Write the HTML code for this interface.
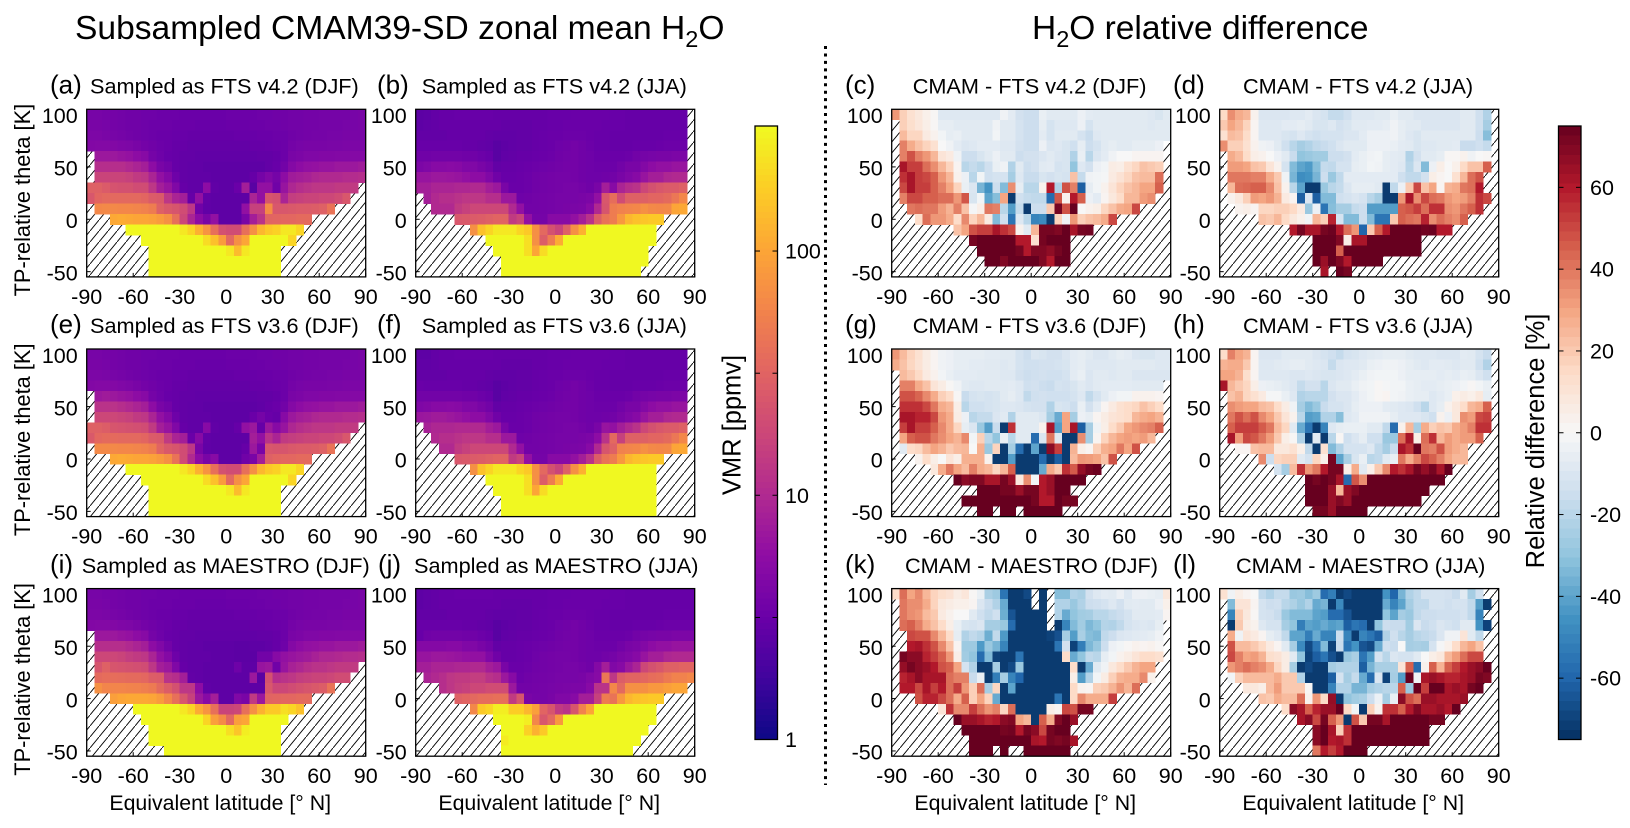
<!DOCTYPE html>
<html><head><meta charset="utf-8"><title>CMAM39-SD H2O</title>
<style>html,body{margin:0;padding:0;background:#fff}svg{display:block}text{font-family:"Liberation Sans",Arial,sans-serif;fill:#000}</style></head>
<body><svg id="fig" xmlns="http://www.w3.org/2000/svg" width="1630" height="828" viewBox="0 0 1630 828">
<defs><pattern id="hatch" patternUnits="userSpaceOnUse" width="9" height="11"><rect width="9" height="11" fill="#fff"/><line x1="-1" y1="12.2" x2="10" y2="-1.2" stroke="#000" stroke-width="0.9"/></pattern></defs>
<rect width="1630" height="828" fill="#fff"/>
<text x="75" y="39" font-size="33.6">Subsampled CMAM39-SD zonal mean H<tspan dy="8" font-size="23.5">2</tspan><tspan dy="-8">O</tspan></text>
<text x="1032" y="39" font-size="33.5">H<tspan dy="8" font-size="23.5">2</tspan><tspan dy="-8">O relative difference</tspan></text>
<line x1="825.5" y1="46" x2="825.5" y2="785" stroke="#000" stroke-width="3" stroke-dasharray="3 4.45"/>
<g id="panels"></g>
<g id="bars"></g>
</svg>
<script>
const _=null;
const latBins=[-87.5,-82.5,-77.5,-72.5,-67.5,-62.5,-57.5,-52.5,-47.5,-42.5,-37.5,-32.5,-27.5,-22.5,-17.5,-12.5,-7.5,-2.5,2.5,7.5,12.5,17.5,22.5,27.5,32.5,37.5,42.5,47.5,52.5,57.5,62.5,67.5,72.5,77.5,82.5,87.5];
const thetaBins=[100,90,80,70,60,50,40,30,20,10,0,-10,-20,-30,-40,-50];
const xTicks=[-90,-60,-30,0,30,60,90];
const yTicks=[100,50,0,-50];
const vmrTicks=[1,10,100];
const vmrMinorTicks=[3.16,31.6];
const diffTicks=[-60,-40,-20,0,20,40,60];
const panelA=[
[3.9,3.9,3.8,3.7,3.6,3.5,3.5,3.4,3.4,3.3,3.3,3.3,3.2,3.2,3.2,3.2,3.2,3.2,3.3,3.3,3.3,3.3,3.4,3.4,3.5,3.5,3.6,3.6,3.7,3.7,3.8,3.8,3.8,3.8,3.9,4],
[4,4,3.9,3.7,3.6,3.5,3.5,3.4,3.3,3.3,3.3,3.2,3.2,3.2,3.1,3.1,3.1,3.1,3.2,3.2,3.2,3.3,3.3,3.4,3.4,3.5,3.6,3.6,3.7,3.7,3.8,3.8,3.8,3.9,3.9,4],
[4.3,4.3,4.1,3.9,3.8,3.6,3.5,3.4,3.3,3.2,3.2,3.1,3.1,3,3,3,3,3,3,3.1,3.1,3.1,3.2,3.2,3.3,3.3,3.5,3.6,3.7,3.8,3.8,3.9,3.9,4,4,4],
[4.6,4.7,4.7,4.6,4.4,4.3,4,3.7,3.5,3.3,3.2,3,3,2.9,2.9,2.9,2.9,2.9,2.9,2.9,2.9,3,3,3.1,3.2,3.3,3.7,3.9,4,4,4,4.1,4.1,4.2,4.2,4.2],
[_,7,7,7,6.5,6.2,5.5,5,3.8,3.4,3.1,3,2.9,2.9,2.8,2.8,2.8,2.8,2.8,2.8,2.8,2.8,2.9,2.9,3,3.3,4,4.2,4.5,4.5,4.6,4.6,4.7,4.7,4.8,4.8],
[_,11,11,11,11,10,9,8,5.5,4,3.6,3,2.9,2.8,2.8,2.7,2.7,2.7,2.7,2.7,2.7,2.7,2.7,2.9,3.1,3.6,4.8,5.5,6,6.2,6.5,6.5,7,7,7,7.5],
[_,17,17,17,17,16,14,13,9,6,4.8,3.4,2.9,2.8,2.8,2.8,2.7,2.7,2.7,2.7,2.7,3,3.8,4.5,3.8,5.5,7.5,8,8.5,9.5,10,10,10,10.5,10.5,11],
[30,30,27,23,22,22,20,20,13,8,6.5,4.5,3,2.8,2.8,5.5,2.8,2.7,2.7,3.2,8,2.5,6,6,3.5,6.5,9.5,11,12,13,13,13,14,14,14],
[25,33,35,35,35,35,35,33,27,26,13,9,8,3,6,2.9,2.7,2.7,2.7,2.7,2.7,9,6,24,22,9,15,16,17,17,18,18,20,25],
[_,60,62,62,60,60,58,55,50,30,26,24,20,13,3.5,2.8,2.7,2.7,2.7,2.7,6,16,16,65,25,25,26,27,27,28,30,42],
[_,_,_,105,110,105,100,100,95,85,70,40,18,9,5.5,4,6,2.7,2.7,2.7,4,8,12,32,33,34,34,36,36],
[_,_,_,_,_,320,320,320,320,320,320,320,260,200,120,75,40,22,20,20,40,70,130,170,190,260,260,200],
[_,_,_,_,_,_,_,320,320,320,320,320,320,320,320,220,150,85,35,70,100,320,320,320,320,320,200],
[_,_,_,_,_,_,_,_,320,320,320,320,320,320,320,320,320,320,260,140,260,320,320,320,320],
[_,_,_,_,_,_,_,_,320,320,320,320,320,320,320,320,320,320,320,320,320,320,320,320,320],
[_,_,_,_,_,_,_,_,320,320,320,320,320,320,320,320,320,320,320,320,320,320,320,320,320]];
const panelB=[
[2.6,2.7,2.9,3,3,3.1,3.1,3.1,3.1,3.1,3,3,3,3,3,3,3,3.1,3.1,3.1,3.2,3.2,3.2,3.2,3.2,3.1,3.1,3,3,3,3,3,3,3,3],
[2.7,2.8,2.9,3,3,3,3,3,3,3,3,2.9,2.9,2.9,2.9,3,3,3.1,3.1,3.2,3.2,3.2,3.2,3.2,3.1,3.1,3.1,3,3,3,3,3,3,3,3],
[2.9,2.9,2.9,2.9,3,3,3,3,3,2.9,2.8,2.8,2.8,2.9,2.9,3,3.1,3.2,3.2,3.3,3.3,3.3,3.2,3.1,3.1,3,3,3,3,3,3,3,3.1,3.1,3.1],
[3.1,3.1,3.1,3.1,3.1,3.1,3,3,2.9,2.8,2.5,2.7,2.8,2.9,2.9,3,3.1,3.2,3.4,3.5,3.7,3.5,3.3,3.1,3.1,3,3,3,3.1,3.1,3.1,3.2,3.3,3.3,3.3],
[3.5,3.5,3.6,3.6,3.6,3.6,3.5,3.5,3.3,3.1,2.5,2.8,2.9,3,3,3.1,3.2,3.3,3.5,3.6,3.7,3.5,3.4,3.2,3.2,3.2,3.2,3.3,3.6,3.8,3.9,4,4,4.2,4.2],
[4.2,4.5,5,5,5.2,5,4.5,4.5,4,3.6,2.9,3,3,3.1,3.2,3.3,3.4,3.5,3.6,3.7,3.7,3.5,3.4,3.3,3.3,3.3,3.6,4,4,4.7,5.5,6,6,6.5,6.5],
[6.5,6.5,7,7,6.8,6.5,6,5.5,5.5,4.5,3.5,3.1,3.1,3.2,3.3,3.5,3.6,3.7,3.8,3.8,3.7,3.5,3.4,3.4,3.5,3.6,4,4.5,5,6.5,8,8,9.5,10,10],
[8,8,9,9,9,9.5,9.5,10,10,8,7,4,3.2,3.2,3.3,3.5,3.6,3.7,3.8,3.9,3.9,3.7,3.5,4,8,5,9,11,12,18,22,25,27,27,30],
[_,8,10,11,11,12,13,13,13,11,11,7,7,3.4,3.5,3.6,3.7,3.8,3.9,3.9,3.9,4,4.2,6,25,38,20,30,30,30,33,33,36,45,60],
[_,_,10,10,10,14,16,18,18,18,18,18,10,6,3.6,3.6,3.7,3.8,3.9,4,4.1,4.2,5,10,24,50,55,58,60,70,62,60,62,100,105],
[_,_,_,_,_,25,26,27,28,30,32,32,14,17,6,3.8,3.8,5,5,5,6,8,12,28,42,50,80,130,150,160,170,170],
[_,_,_,_,_,_,_,70,150,200,260,260,260,200,170,70,35,22,17,30,70,120,320,320,320,320,320,320,320,320,320],
[_,_,_,_,_,_,_,_,_,320,320,320,320,320,230,70,28,50,110,320,320,320,320,320,320,320,320,320,320,320,320],
[_,_,_,_,_,_,_,_,_,_,320,320,320,320,230,100,220,320,320,320,320,320,320,320,320,320,320,320,320,320],
[_,_,_,_,_,_,_,_,_,_,_,320,320,320,320,320,320,320,320,320,320,320,320,320,320,320,320,320,320,320],
[_,_,_,_,_,_,_,_,_,_,_,320,320,320,320,320,320,320,320,320,320,320,320,320,320,320,320,320,320]];
const panelE=[
[3.9,3.9,3.8,3.7,3.6,3.5,3.5,3.4,3.4,3.3,3.3,3.3,3.2,3.2,3.2,3.2,3.2,3.2,3.3,3.3,3.3,3.3,3.4,3.4,3.5,3.5,3.6,3.6,3.7,3.7,3.8,3.8,3.8,3.8,3.9,4],
[4,4,3.9,3.7,3.6,3.5,3.5,3.4,3.3,3.3,3.3,3.2,3.2,3.2,3.1,3.1,3.1,3.1,3.2,3.2,3.2,3.3,3.3,3.4,3.4,3.5,3.6,3.6,3.7,3.7,3.8,3.8,3.8,3.9,3.9,4],
[4.2,4.2,4.1,3.9,3.8,3.6,3.5,3.4,3.3,3.2,3.2,3.1,3.1,3,3,3,3,3,3,3.1,3.1,3.1,3.2,3.2,3.3,3.3,3.5,3.6,3.7,3.8,3.8,3.9,3.9,4,4,4],
[4.6,4.8,4.8,4.7,4.5,4.3,4,3.7,3.5,3.3,3.2,3,3,2.9,2.9,2.9,2.9,2.9,2.9,2.9,2.9,3,3,3.1,3.2,3.3,3.7,3.9,4,4,4,4.1,4.1,4.2,4.2,4.2],
[_,7,7.5,7,6.5,6.2,5.5,5,3.8,3.4,3.1,3,2.9,2.9,2.8,2.8,2.8,2.8,2.8,2.8,2.8,2.8,2.9,2.9,3,3.3,4,4.2,4.5,4.5,4.6,4.6,4.7,4.7,4.8,4.8],
[_,12,12,12,11,10,9,8,5.5,4,3.6,3,2.9,2.8,2.8,2.7,2.7,2.7,2.7,2.7,2.7,2.7,2.8,3,3.2,3.6,4.8,5.5,6,6.2,6.5,6.5,7,7,7,7.5],
[_,18,18,18,17,16,14,13,9,6,4.8,3.4,2.9,2.8,2.8,2.8,2.7,2.7,2.7,2.7,2.7,3.2,3.8,3.2,3,5,7,8,8.5,9.5,10,10,10,10.5,10.5,11],
[30,30,28,24,23,22,21,20,14,8,6.5,4.5,3,2.8,2.8,5,2.8,2.7,2.7,3,6,7,3,7,5,6.5,9.5,11,12,13,13,13,14,14,14],
[26,34,36,36,35,35,35,33,27,26,14,9,8,3.2,5,2.9,2.7,2.7,2.7,2.7,2.7,8,6,12,9,14,15,16,17,17,18,18,20,25],
[_,62,62,62,60,60,58,55,50,32,26,24,20,13,4,2.8,2.7,2.7,2.7,2.7,3,7,4,25,24,24,26,27,27,28,30,42],
[_,_,_,105,110,105,100,100,95,85,70,42,20,10,5.5,4,5,2.7,2.7,2.7,3.5,4,8,30,33,34,34,36,36],
[_,_,_,_,_,320,320,320,320,320,320,320,260,200,120,75,40,22,20,20,40,70,130,170,190,260,260,200],
[_,_,_,_,_,_,_,320,320,320,320,320,320,320,320,220,150,85,35,70,100,320,320,320,320,320,200],
[_,_,_,_,_,_,_,_,320,320,320,320,320,320,320,320,320,320,260,140,260,320,320,320,320],
[_,_,_,_,_,_,_,_,320,320,320,320,320,320,320,320,320,320,320,320,320,320,320,320,320],
[_,_,_,_,_,_,_,_,320,320,320,320,320,320,320,320,320,320,320,320,320,320,320,320,320]];
const panelF=[
[2.7,2.7,2.9,3,3,3.1,3.1,3.1,3.1,3.1,3,3,3,3,3,3,3,3.1,3.1,3.1,3.2,3.2,3.2,3.2,3.2,3.1,3.1,3,3,3,3,3,3,3,3],
[2.8,2.8,2.9,3,3,3,3,3,3,3,3,2.9,2.9,2.9,2.9,3,3,3.1,3.1,3.2,3.2,3.2,3.2,3.2,3.1,3.1,3.1,3,3,3,3,3,3,3,3],
[2.9,2.9,2.9,2.9,3,3,3,3,3,2.9,2.8,2.8,2.8,2.9,2.9,3,3.1,3.2,3.2,3.3,3.3,3.3,3.2,3.1,3.1,3,3,3,3,3,3,3,3.1,3.1,3.1],
[3.2,3.1,3.1,3.1,3.1,3.1,3,3,2.9,2.8,2.5,2.7,2.8,2.9,2.9,3,3.1,3.2,3.4,3.5,3.7,3.5,3.3,3.1,3.1,3,3,3,3.1,3.1,3.1,3.2,3.3,3.3,3.3],
[3.6,3.6,3.6,3.6,3.6,3.6,3.5,3.5,3.3,3.1,2.5,2.8,2.9,3,3,3.1,3.2,3.3,3.5,3.6,3.7,3.5,3.4,3.2,3.2,3.2,3.2,3.3,3.6,3.8,3.9,4,4,4.2,4.2],
[4.4,4.6,5,5,5.2,5,4.5,4.5,4,3.6,2.9,3,3,3.1,3.2,3.3,3.4,3.5,3.6,3.7,3.7,3.5,3.4,3.3,3.3,3.3,3.6,4,4,4.7,5.5,6,6,6.5,6.5],
[6.8,7,7.5,7.5,7,6.5,6,5.5,5.5,4.5,3.5,3.1,3.1,3.2,3.3,3.5,3.6,3.7,3.8,3.8,3.7,3.5,3.4,3.4,3.5,3.6,4,4.5,5,6.5,8,8,9.5,10,10],
[_,8.5,9.5,9.5,9.5,10,10,10,10,8,7,4,3.2,3.2,3.3,3.5,3.6,3.7,3.8,3.9,3.9,3.7,3.5,4,6.5,6,8,10,12,18,22,25,27,27,30],
[_,_,10,11,11,12,13,13,13,11,11,7,7,3.4,3.5,3.6,3.7,3.8,3.9,3.9,3.9,4,4.2,5.5,12,35,16,30,30,30,33,33,36,45,60],
[_,_,_,10,10,14,16,18,18,18,18,18,10,6,3.6,3.6,3.7,3.8,3.9,4,4.1,4.2,5,10,24,30,55,58,60,70,62,60,62,100,105],
[_,_,_,_,_,25,26,27,28,30,32,32,14,17,6,3.8,3.8,5,5,5,6,8,12,28,42,50,80,130,150,160,170,170],
[_,_,_,_,_,_,_,70,150,200,260,260,260,200,170,70,35,22,17,30,70,120,320,320,320,320,320,320,320,320,320],
[_,_,_,_,_,_,_,_,_,320,320,320,320,320,230,70,28,50,110,320,320,320,320,320,320,320,320,320,320,320,320],
[_,_,_,_,_,_,_,_,_,_,320,320,320,320,230,100,220,320,320,320,320,320,320,320,320,320,320,320,320,320,320],
[_,_,_,_,_,_,_,_,_,_,_,320,320,320,320,320,320,320,320,320,320,320,320,320,320,320,320,320,320,320,320],
[_,_,_,_,_,_,_,_,_,_,_,320,320,320,320,320,320,320,320,320,320,320,320,320,320,320,320,320,320,320,320]];
const panelI=[
[3.9,3.9,3.8,3.7,3.6,3.5,3.5,3.4,3.4,3.3,3.3,3.3,3.2,3.2,3.2,3.2,3.2,3.2,3.3,3.3,3.3,3.3,3.4,3.4,3.5,3.5,3.6,3.6,3.7,3.7,3.8,3.8,3.8,3.8,3.9,4],
[4,4,3.9,3.7,3.6,3.5,3.5,3.4,3.3,3.3,3.3,3.2,3.2,3.2,3.1,3.1,3.1,3.1,3.2,3.2,3.2,3.3,3.3,3.4,3.4,3.5,3.6,3.6,3.7,3.7,3.8,3.8,3.8,3.9,3.9,4],
[4.2,4.2,4.1,3.9,3.8,3.6,3.5,3.4,3.3,3.2,3.2,3.1,3.1,3,3,3,3,3,3,3.1,3.1,3.1,3.2,3.2,3.3,3.3,3.5,3.6,3.7,3.8,3.8,3.9,3.9,4,4,4],
[4.6,4.7,4.7,4.6,4.4,4.3,4,3.7,3.5,3.3,3.2,3,3,2.9,2.9,2.9,2.9,2.9,2.9,2.9,2.9,3,3,3.1,3.2,3.3,3.7,3.9,4,4,4,4.1,4.1,4.2,4.2,4.2],
[_,7,7,7,6.5,6.2,5.5,5,3.8,3.4,3.1,3,2.9,2.9,2.8,2.8,2.8,2.8,2.8,2.8,2.8,2.8,2.9,2.9,3,3.3,4,4.2,4.5,4.5,4.6,4.6,4.7,4.7,4.8,4.8],
[_,11,11,11,11,10,9,8,5.5,4.5,3.6,3,2.9,2.8,2.8,2.7,2.7,2.7,2.7,2.6,2.6,2.7,2.7,2.8,3,3.4,4.8,5.5,6,6.2,6.5,6.5,7,7,7,7.5],
[_,18,18,18,17,15,14,13,9,6,4.8,3.4,2.9,2.8,2.8,2.8,2.7,2.7,2.7,2.6,2.6,2.6,3.6,3.6,5,6,6.5,7,7.5,8.5,9.5,9.5,10,10.5,10.5,11],
[_,24,30,24,23,22,21,20,13,8,7,4.5,3,2.8,2.8,2.7,2.7,2.7,2.7,3.4,2.7,2.7,6.5,7,3.5,6.5,8.5,9.5,11,12,12,13,14,14,14],
[_,36,38,38,37,36,36,34,28,27,12,11,8,2.9,2.8,2.7,2.7,2.7,2.7,2.7,2.7,7,2.5,22,11,12,13,15,16,17,17,18,20,20],
[_,70,58,58,58,56,55,52,48,36,28,22,13,13,5.5,2.8,2.7,2.7,2.7,2.7,2.7,2.7,2.7,25,18,18,20,22,24,26,28,42],
[_,_,_,90,100,105,105,105,100,85,60,40,25,16,7,5,8,2.7,2.7,4.5,4,14,7,32,33,34,34,36,36],
[_,_,_,_,_,_,320,320,320,320,320,320,260,200,110,75,40,17,17,18,40,70,120,170,170,230,200,150],
[_,_,_,_,_,_,_,320,320,320,320,320,320,320,320,200,90,65,35,90,100,320,320,320,320,320],
[_,_,_,_,_,_,_,_,320,320,320,320,320,320,320,320,320,320,230,160,280,320,320,320,320],
[_,_,_,_,_,_,_,_,320,320,320,320,320,320,320,320,320,320,320,320,320,320,320,320,320],
[_,_,_,_,_,_,_,_,_,_,320,320,320,320,320,320,320,320,320,320,320,320,320,320,320]];
const panelJ=[
[2.7,2.8,2.9,3,3,3.1,3.1,3.1,3.1,3.1,3,3,3,3,3,3,3,3.1,3.1,3.1,3.2,3.2,3.2,3.2,3.2,3.1,3.1,3,3,3,3,3,3,3,3,3],
[2.7,2.8,2.9,3,3,3,3,3,3,3,3,2.9,2.9,2.9,2.9,3,3,3.1,3.1,3.2,3.2,3.2,3.2,3.2,3.1,3.1,3.1,3,3,3,3,3,3,3,3,3],
[2.9,2.9,2.9,2.9,3,3,3,3,3,2.9,2.8,2.8,2.8,2.9,2.9,3,3.1,3.2,3.2,3.3,3.3,3.3,3.2,3.1,3.1,3,3,3,3,3,3,3,3.1,3.1,3.1,3.1],
[3.1,3.1,3.1,3.1,3.1,3.1,3,3,2.9,2.8,2.5,2.7,2.8,2.9,2.9,3,3.1,3.2,3.4,3.5,3.7,3.5,3.3,3.1,3.1,3,3,3,3.1,3.1,3.1,3.2,3.3,3.3,3.3,3.3],
[3.1,3.5,3.6,3.6,3.6,3.6,3.5,3.5,3.3,3.1,2.5,2.8,2.9,3,3,3.1,3.2,3.3,3.5,3.6,3.7,3.5,3.4,3.2,3.2,3.2,3.2,3.3,3.6,3.8,3.9,4,4,4.2,4.2,4.2],
[4.8,4.8,4.8,4.8,5,5,4.5,4.5,4,3.6,2.9,3,3,3.1,3.2,3.3,3.4,3.5,3.6,3.7,3.7,3.5,3.4,3.3,3.3,3.3,3.6,4,4.2,4.7,5.5,6,6,6.5,6.5,6.5],
[6.5,6.5,7,7,6.8,6.5,6.2,6,6,4.5,3.5,3,3,3.1,3.2,3.4,3.6,3.7,3.8,3.8,3.7,3.5,3.4,3.4,3.6,3.8,4.2,4.5,5,6.5,8,8,9.5,10,10,10],
[8,8,9,9,9,9.5,9.5,10,10,8,7,4,3.2,3.2,3.3,3.5,3.6,3.7,3.8,3.9,3.9,3.7,3.5,4.8,8,4.5,5,7,9,18,22,25,30,30,32,32],
[_,9,10,11,13,14,14,15,15,12,11,7,5,3.3,3.5,3.6,3.7,3.8,3.9,3.9,3.9,4,4.5,5,45,13,28,32,32,34,38,40,48,55,55,60],
[_,_,_,11,13,15,16,18,18,20,20,20,7,3.6,3.6,3.7,3.8,3.9,4,4.1,4.2,4.2,5,12,12,60,35,70,70,70,80,80,90,100,100],
[_,_,_,_,_,30,32,35,38,38,40,40,14,24,4,3.8,3.8,4,4.5,4.5,5,8,8,16,50,42,80,130,150,160,170,170],
[_,_,_,_,_,_,_,60,170,200,280,280,180,180,130,90,32,24,14,12,24,55,100,320,320,320,320,320,320,320,320],
[_,_,_,_,_,_,_,_,_,_,320,320,320,320,280,60,25,35,80,320,320,320,320,320,320,320,320,320,320,320,320],
[_,_,_,_,_,_,_,_,_,_,_,320,320,320,190,120,170,320,320,320,320,320,320,320,320,320,320,320,320,320],
[_,_,_,_,_,_,_,_,_,_,_,270,320,320,320,320,320,320,320,320,320,320,320,320,320,320,320,320,320],
[_,_,_,_,_,_,_,_,_,_,_,320,320,320,320,320,320,320,320,320,320,320,320,320,320,320,320,320]];
const panelC=[
[33,18,12,8,4,1,-9,-9,-9,-9,-9,-9,-9,-9,-3,-7,-13,-15,-15,-5,-8,-8,-8,-8,-4,-7,-8,-8,-8,-8,-8,-8,-8,-9,-11,-8],
[_,18,13,9,5,1,-6,-6,-8,-8,-8,-8,-8,-3,-8,-8,-12,-15,-15,-6,-12,-9,-9,-9,-4,-12,-8,-8,-8,-8,-8,-8,-8,-9,-8,-8],
[_,24,16,16,7,3,-2,-6,-5,-8,-8,-8,-8,-2,-8,-8,-12,-15,-15,-7,-12,-8,-8,-8,-12,-16,-9,-8,-8,-8,-8,-8,-8,-8,-8,-8],
[_,38,28,22,17,12,0,-3,-7,-10,-9,-7,-7,-7,-9,-9,-13,-15,-15,-4,-10,-9,-11,-14,-6,-15,-12,-8,-6,-8,-8,-6,-6,-6,-4],
[_,38,48,38,33,25,10,7,-3,-15,-15,-11,-8,-4,-8,-8,-15,-13,-13,-10,-8,-10,-11,-22,-5,-20,-10,-7,-3,0,0,2,2,2,2],
[_,62,52,52,42,35,25,17,2,-20,-17,-20,-14,-5,-3,-22,-8,-15,-13,-8,-7,-12,-11,-30,-9,-13,-4,-2,6,5,12,16,22,20,18],
[_,55,62,52,50,45,33,25,3,-4,-20,-2,-14,-12,-12,-25,-9,-16,-16,-11,-13,-11,-12,22,-17,-3,-2,-1,7,11,16,22,24,24,42],
[_,50,62,52,52,45,38,30,17,-5,-10,-35,-45,-15,-33,35,-6,-20,-20,3,60,-22,48,38,-62,-6,-2,3,10,17,22,25,30,30,45],
[_,38,50,50,45,45,42,42,33,47,-11,-2,-40,-32,30,-72,-14,-17,-18,-18,-58,47,3,60,45,-4,-7,2,8,14,25,25,32,35],
[_,_,40,42,40,40,32,26,38,22,-1,5,40,38,-20,-42,-17,-72,-15,-15,20,72,48,75,0,3,5,16,22,28,30,50],
[_,_,_,14,42,33,33,28,14,36,17,25,7,-33,-14,-55,-9,-20,-50,-48,-72,17,-3,33,18,22,24,28,50],
[_,_,_,_,_,_,_,_,22,30,48,52,52,62,55,50,3,-8,25,72,72,70,75,62,72,73],
[_,_,_,_,_,_,_,_,_,_,72,75,75,75,75,75,60,60,12,72,75,75,75],
[_,_,_,_,_,_,_,_,_,_,_,75,75,75,75,75,72,60,70,70,67,72,75],
[_,_,_,_,_,_,_,_,_,_,_,_,75,75,70,75,75,75,75,70,60,75,75],
[]];
const panelD=[
[15,35,28,25,3,-10,-10,-10,-10,-9,-9,-7,-10,-12,-17,-17,-14,-9,-9,-9,-8,-8,-5,-8,-8,-10,-10,-10,-10,-10,-10,-8,-8,-14,-22],
[20,30,25,17,2,-9,-9,-9,-7,-7,-6,-8,-11,-11,-9,-13,-11,-8,-8,-7,-7,-6,-3,-6,-8,-8,-10,-10,-10,-10,-10,-8,-8,-14,-25],
[12,24,22,14,2,-9,-9,-9,-11,-12,-9,-12,-14,-12,-12,-12,-10,-10,-7,-4,-4,-4,-3,-6,-9,-11,-8,-8,-8,-8,-8,-8,-8,-15,-32],
[35,18,18,12,3,-3,-4,-8,-14,-20,-25,-22,-18,-16,-14,-10,-8,-8,-8,-4,-4,-4,-5,-7,-8,-11,-9,-9,-8,-8,-7,-16,-16,-14,-17],
[_,28,24,14,5,3,0,-4,-8,-16,-30,-28,-26,-26,-15,-15,-13,-7,-5,-3,-2,-6,-7,-8,-22,-13,-8,-8,-6,1,1,3,-3,0,1],
[_,32,32,30,22,20,10,3,-12,-33,-40,-43,-32,-17,-18,-12,-12,-6,-5,-2,-3,-6,-7,-9,-20,-10,-33,-4,5,0,4,15,22,22,45],
[_,40,40,40,38,38,28,20,-3,-35,-47,-45,-35,-15,-28,-18,-7,-7,-7,-7,-7,-7,-7,-14,-18,-18,-13,5,2,0,12,25,42,48],
[_,25,42,43,45,45,36,22,3,-20,-40,-72,-72,-28,-20,-17,-10,-6,-6,-6,-8,-72,-18,-4,20,50,22,30,2,26,28,40,42,60],
[_,3,8,18,32,30,33,26,7,2,-62,-10,-62,-33,-33,-14,-12,-10,-12,-20,-25,-72,-72,33,62,35,50,42,40,33,30,32,38,55,50],
[_,_,3,5,2,16,16,18,18,15,7,-28,-4,-55,-32,-25,-25,-17,-15,-42,-42,-42,-42,45,47,52,42,55,55,35,33,40,45,55],
[_,_,_,_,_,22,20,25,15,8,4,-2,25,18,58,-12,-33,-33,-15,-33,-55,-55,20,45,42,40,58,35,42,38,35,45],
[_,_,_,_,_,_,_,_,_,60,72,62,62,72,74,60,42,33,-60,20,45,60,75,75,75,75,73,74,60,60],
[_,_,_,_,_,_,_,_,_,_,_,_,75,75,75,70,5,62,62,75,75,75,75,75,75,75],
[_,_,_,_,_,_,_,_,_,_,_,_,75,75,75,45,75,75,75,75,75,75,75,75,75,75],
[_,_,_,_,_,_,_,_,_,_,_,_,75,65,75,70,60,75,75,75,75],
[_,_,_,_,_,_,_,_,_,_,_,_,_,62,_,75,72]];
const panelG=[
[33,24,17,12,6,2,-3,-4,-6,-6,-6,-6,-7,-7,-8,-8,-12,-15,-10,-11,-13,-13,-10,-7,-6,-8,-10,-10,-8,-6,-7,-10,-11,-11,-9,-9],
[28,22,16,11,6,2,-3,-4,-6,-6,-7,-7,-8,-8,-9,-8,-12,-14,-14,-13,-13,-12,-11,-7,-6,-9,-9,-9,-9,-8,-8,-8,-8,-8,-9,-9],
[_,24,20,15,7,3,-2,-5,-7,-7,-7,-8,-8,-8,-9,-9,-13,-15,-14,-13,-14,-14,-12,-7,-5,-10,-8,-8,-9,-8,-8,-10,-10,-10,-10,-10],
[_,38,38,28,22,10,6,1,-3,-8,-9,-9,-8,-8,-8,-7,-9,-14,-13,-15,-16,-12,-13,-11,-8,-10,-8,-7,-7,-7,-7,-8,-8,-8,-8],
[_,48,48,44,36,28,18,14,1,-16,-12,-11,-12,-11,-8,-6,-9,-18,-14,-13,-14,-14,-14,-12,-9,-18,-12,-8,-4,-2,-2,3,3,3,2],
[_,55,55,55,50,40,28,25,5,-20,-14,-14,-12,-11,-9,-9,-10,-12,-13,-13,-22,-11,-12,-15,-5,-13,-7,2,7,12,14,16,22,18,14],
[_,62,62,58,58,50,33,28,6,-4,-20,-17,-17,-10,-8,-22,-8,-8,-8,-10,-25,-38,30,-25,-4,-6,2,6,10,12,14,25,28,30,26],
[_,52,62,52,52,45,36,28,16,-6,-10,-28,-42,-16,-72,55,-8,-8,-8,3,62,-42,30,62,-62,-25,-3,5,14,20,30,33,36,38,45],
[_,30,45,48,48,40,35,30,26,36,-2,18,-20,-30,-5,-20,-8,-8,-58,-10,40,-8,-72,-72,35,-25,2,17,25,30,32,30,32,25],
[_,-8,14,16,24,30,26,20,24,25,0,27,-28,17,-72,-25,-58,-72,-40,-72,68,52,-72,26,5,2,18,27,30,40,30,48],
[_,_,_,3,14,5,0,10,5,27,27,27,3,-72,-72,-42,-72,-72,-72,-58,-72,-62,-72,24,33,32,30,22,48],
[_,_,_,_,_,8,28,40,30,24,38,28,25,16,25,45,-72,-72,-72,-38,28,20,55,46,66,72,74],
[_,_,_,_,_,_,_,_,75,68,70,70,62,62,72,65,8,35,-2,60,65,75,75,75,75],
[_,_,_,_,_,_,_,_,_,_,_,75,75,75,72,72,65,72,72,60,65,75,75],
[_,_,_,_,_,_,_,_,_,75,75,75,75,75,75,75,75,75,72,60,60,75,72,72],
[_,_,_,_,_,_,_,_,_,_,_,75,75,_,75,75,_,75,75,75,75,75]];
const panelH=[
[14,38,30,26,2,-10,-10,-10,-8,-8,-8,-8,-10,-12,-14,-17,-12,-11,-9,-8,-7,-6,-6,-6,-8,-9,-9,-9,-10,-10,-10,-7,-8,-12,-16],
[26,28,28,20,2,-9,-9,-8,-7,-6,-6,-8,-9,-10,-17,-10,-9,-9,-8,-5,-4,-3,-3,-4,-6,-8,-9,-7,-7,-8,-9,-8,-8,-14,-22],
[30,30,26,13,2,-9,-9,-9,-9,-10,-10,-9,-10,-11,-11,-10,-9,-7,-5,-3,-2,-2,-2,-4,-6,-6,-6,-6,-7,-6,-7,-5,-6,-10,-14],
[62,25,20,16,5,-4,-5,-6,-8,-10,-17,-13,-13,-20,-10,-8,-8,-5,-3,-2,1,-1,-2,-2,-5,-6,-7,-7,-6,-5,-4,-2,1,-2,-5],
[_,22,26,16,12,7,-1,-1,-5,-9,-22,-20,-20,-20,-13,-10,-10,-7,-4,-2,1,2,-2,-3,-5,-6,-6,-9,-7,-5,4,6,4,8,-6],
[_,35,32,30,30,24,22,14,6,-3,-25,-33,-28,-16,-12,-12,-10,-6,-4,-4,-4,-7,-8,-9,-10,-14,-20,-9,-6,3,8,14,25,28,45],
[_,40,48,42,48,36,30,20,10,3,-20,-42,-40,-22,-22,-32,-9,-7,-3,-3,-3,-3,-6,-9,-9,-9,-11,-14,3,-4,8,35,32,50,52],
[_,45,52,52,52,46,40,24,16,-8,-38,-55,-72,-50,-9,-6,-5,-5,-5,-8,-8,-18,-58,3,25,-25,28,18,22,20,28,32,38,55,55],
[_,62,32,50,47,40,32,20,5,1,-22,-72,-7,-72,-20,1,-14,-10,-6,-14,-14,-28,-28,42,62,5,42,55,25,32,28,32,32,45],
[_,_,2,2,22,24,24,8,8,12,4,-18,-72,12,-33,-22,-12,-12,-12,-9,-18,-25,-16,62,55,75,40,38,48,32,28,25],
[_,_,_,_,_,36,-15,16,18,18,-8,-12,16,4,72,-40,-24,-11,-5,-20,-18,-8,-5,40,28,38,50,45,38,30,25,25],
[_,_,_,_,_,_,_,-12,-25,24,55,33,40,60,72,72,5,28,-8,4,20,36,60,55,62,72,66,72,62,75],
[_,_,_,_,_,_,_,_,_,_,_,75,72,75,72,62,-58,47,35,75,75,75,75,75,75,75,75,75,75],
[_,_,_,_,_,_,_,_,_,_,_,75,75,75,65,25,65,70,75,75,75,75,75,75,75,75,75],
[_,_,_,_,_,_,_,_,_,_,_,75,75,75,65,70,65,75,75,75,75,75,75,75,75,75],
[_,_,_,_,_,_,_,_,_,_,_,_,72,72,65,75,75,75,75]];
const panelK=[
[14,42,30,36,25,17,13,11,6,9,1,-5,-24,-27,-55,-72,-72,-68,_,-72,_,-32,-32,-22,-24,-13,-9,-7,-8,-4,-9,-4,-4,-5,-6,8],
[_,40,35,35,28,17,8,6,4,4,2,-10,-16,-22,-38,-72,-72,-72,_,-72,_,-22,-22,-28,-22,-15,-14,-12,-9,-13,-8,-7,-8,-8,-4,4],
[_,40,35,33,24,20,7,3,0,0,-8,-14,-18,-14,-37,-65,-72,-72,-72,-72,_,-22,-38,-30,-26,-25,-20,-20,-17,-15,-12,-8,-8,-8,-7,2],
[_,42,45,38,28,22,14,5,-5,-11,-12,-10,-25,-25,-28,-58,-72,-72,-72,-72,_,-72,-50,-33,-26,-34,-30,-21,-22,-18,-12,-10,-9,-10,-6],
[_,_,50,48,48,36,25,14,-6,-22,-18,-21,-37,-18,-43,-72,-72,-72,-72,-72,-70,-66,-25,-42,-24,-32,-34,-18,-15,-10,-9,-8,-7,-6,-3],
[_,_,60,62,55,48,36,22,2,-27,-27,-43,-28,-35,-50,-72,-72,-72,-72,-72,-72,-55,-13,-70,-52,-34,-28,-15,-4,-2,1,3,2,3,1],
[_,72,68,68,58,52,45,33,5,-26,-30,-58,-33,-70,-72,-72,-55,-72,-72,-72,-72,-72,14,-38,-30,-18,-20,-6,-2,3,6,10,14,14,12],
[_,66,72,68,65,60,48,45,30,-12,-22,-72,-72,-25,-72,-68,-28,-72,-72,-72,-72,-72,-72,14,-72,-38,-8,-3,8,14,20,26,30,30],
[_,58,62,68,62,62,62,42,38,38,-16,-5,-72,-52,-25,-50,-60,-72,-72,-72,-72,-72,-72,5,-42,-22,-2,6,18,26,28,28,36,4],
[_,60,60,50,62,52,60,42,52,33,18,42,-25,16,-72,-40,-72,-72,-72,-72,-72,-72,-72,15,3,2,18,20,26,34,26,42],
[_,_,_,48,58,58,50,42,28,45,18,30,17,-38,-72,-72,-72,-72,-72,-72,-72,-55,-72,15,36,28,28,28,52],
[_,_,_,_,_,_,10,55,36,36,52,42,34,38,16,42,-72,-72,-72,-72,5,2,50,48,72,72],
[_,_,_,_,_,_,_,_,75,65,65,62,58,60,68,70,30,25,-72,45,28,70,75,65],
[_,_,_,_,_,_,_,_,_,75,75,75,75,75,72,73,60,72,68,50,72,75,75],
[_,_,_,_,_,_,_,_,_,_,75,75,75,75,75,75,75,75,62,60,72,70,72,62],
[_,_,_,_,_,_,_,_,_,_,75,75,75,_,75,_,_,75,75,75,75,75,75]];
const panelL=[
[12,-3,5,2,0,-18,-22,-17,-17,-28,-27,-32,-27,-58,-52,-72,-68,-72,-72,-72,-72,-45,-60,-35,-22,-18,-12,-12,-12,-13,-16,-8,-25,-14],
[_,-33,10,10,2,-12,-15,-14,-20,-23,-28,-22,-38,-35,-72,-48,-72,-72,-72,-72,-72,-38,-50,-40,-25,-18,-18,-12,-12,-14,-12,-12,-18,-42,-72],
[_,-50,18,8,1,-12,-13,-16,-28,-33,-33,-33,-40,-42,-58,-58,-65,-72,-72,-72,-72,-30,-40,-25,-28,-18,-15,-15,-14,-14,-14,-12,-18,-50],
[_,-72,20,6,3,-9,-12,-12,-25,-30,-52,-40,-42,-38,-42,-40,-62,-55,-58,-72,-30,-15,-16,-16,-26,-10,-16,-14,-10,-12,-14,-8,-8,-45,-70],
[_,28,-3,10,7,2,-6,-9,-18,-40,-40,-52,-38,-50,-50,-15,-50,-72,-50,-55,-62,-22,-14,-20,-25,-20,-18,-16,-10,-3,-3,10,-8,-18],
[_,48,24,24,20,15,7,2,-8,-25,-48,-68,-55,-33,-70,-16,-55,-45,-65,-68,-38,-14,-16,0,-25,-24,-25,-12,-1,4,14,25,30,22],
[_,50,38,30,32,26,13,11,6,-8,-30,-70,-62,-55,-66,-72,-28,-24,-55,-42,-12,-20,-10,-12,-12,-8,0,5,8,25,32,42,50,50],
[_,33,38,42,38,35,28,16,6,-25,-72,-68,-72,-72,-25,-22,-22,-22,-62,-35,-24,-24,-24,10,45,-58,3,45,26,45,52,60,65,68,75],
[_,-2,18,24,24,24,24,28,20,20,-22,-72,-72,-72,-62,-12,-25,-17,-38,-58,-10,-70,-25,-42,75,-3,62,65,62,58,58,62,65,72,70],
[_,_,_,8,8,5,24,32,20,20,20,1,-72,-72,-50,-22,-22,-35,-35,-25,-22,-20,-20,45,-28,75,52,75,75,62,65,62,72,75],
[_,_,_,_,_,22,20,28,24,24,42,3,33,15,66,-72,-30,-26,-24,-15,-4,-25,-5,68,48,42,65,65,62,62,62,65],
[_,_,_,_,_,_,_,_,14,68,62,45,58,65,65,75,15,-2,-72,18,3,55,55,45,60,70,62,62,65,60,75],
[_,_,_,_,_,_,_,_,_,_,62,68,50,72,45,33,-72,48,20,72,72,62,75,75,75,75,75,72,72],
[_,_,_,_,_,_,_,_,_,_,_,_,68,75,62,18,55,75,75,75,75,75,75,75,75,75,75],
[_,_,_,_,_,_,_,_,_,_,_,_,68,75,60,62,55,75,75,75,75,75,75,75,75,75,75],
[_,_,_,_,_,_,_,_,_,_,_,_,40,60,52,60,75,75,75]];

const NS='http://www.w3.org/2000/svg';
const plasma=['#0d0887','#41049d','#6a00a8','#8f0da4','#b12a90','#cc4778','#e16462','#f2844b','#fca636','#fcce25','#f0f921'];
const rdbu=['#053061','#2166ac','#4393c3','#92c5de','#cddeee','#f7f7f7','#fddbc7','#f4a582','#d6604d','#b2182b','#67001f'];
const VMR_MAX=325, DIFF_MAX=75;
function hex(c){return [1,3,5].map(i=>parseInt(c.substr(i,2),16));}
function ramp(stops,t){t=Math.max(0,Math.min(1,t));const p=t*(stops.length-1),i=Math.min(stops.length-2,Math.floor(p)),f=p-i,a=hex(stops[i]),b=hex(stops[i+1]);return 'rgb('+a.map((v,k)=>Math.round(v+(b[k]-v)*f)).join(',')+')';}
function vmrColor(v){return ramp(plasma,Math.log10(v)/Math.log10(VMR_MAX));}
function diffColor(v){return ramp(rdbu,(v+DIFF_MAX)/(2*DIFF_MAX));}
function mk(parent,tag,attrs,txt){const e=document.createElementNS(NS,tag);for(const k in attrs)e.setAttribute(k,attrs[k]);if(txt!==undefined)e.textContent=txt;parent.appendChild(e);return e;}
const colX=[86.7,415.7,891.7,1219.7], rowY=[109.3,349,588.6], PW=279, PH=167.6;
const panels=[
{id:'a',data:panelA,c:0,r:0,kind:'v',title:'Sampled as FTS v4.2 (DJF)',lx:50,tx:90},
{id:'b',data:panelB,c:1,r:0,kind:'v',title:'Sampled as FTS v4.2 (JJA)',lx:377,tx:421.7},
{id:'c',data:panelC,c:2,r:0,kind:'d',title:'CMAM - FTS v4.2 (DJF)',lx:845,tx:912.7},
{id:'d',data:panelD,c:3,r:0,kind:'d',title:'CMAM - FTS v4.2 (JJA)',lx:1173,tx:1243},
{id:'e',data:panelE,c:0,r:1,kind:'v',title:'Sampled as FTS v3.6 (DJF)',lx:50,tx:90},
{id:'f',data:panelF,c:1,r:1,kind:'v',title:'Sampled as FTS v3.6 (JJA)',lx:377,tx:421.7},
{id:'g',data:panelG,c:2,r:1,kind:'d',title:'CMAM - FTS v3.6 (DJF)',lx:845,tx:912.7},
{id:'h',data:panelH,c:3,r:1,kind:'d',title:'CMAM - FTS v3.6 (JJA)',lx:1173,tx:1243},
{id:'i',data:panelI,c:0,r:2,kind:'v',title:'Sampled as MAESTRO (DJF)',lx:50,tx:81.7},
{id:'j',data:panelJ,c:1,r:2,kind:'v',title:'Sampled as MAESTRO (JJA)',lx:378,tx:414},
{id:'k',data:panelK,c:2,r:2,kind:'d',title:'CMAM - MAESTRO (DJF)',lx:845,tx:905},
{id:'l',data:panelL,c:3,r:2,kind:'d',title:'CMAM - MAESTRO (JJA)',lx:1173,tx:1236}];
const root=document.getElementById('panels');
panels.forEach(p=>{
  const L=colX[p.c],T=rowY[p.r];
  const xS=lat=>L+(lat+90)/180*PW, yS=th=>T+(105-th)/160*PH;
  const g=mk(root,'g',{});
  
  
  const h=mk(g,'rect',{x:L,y:T,width:PW,height:PH,fill:'url(#hatch)'});
  
  
  xTicks.forEach(t=>{
    const tk=mk(g,'line',{x1:xS(t),x2:xS(t),y1:T+PH,y2:T+PH-4,stroke:'#000','stroke-width':1});
    
    
    const lb=mk(g,'text',{x:xS(t),y:T+PH+27,'font-size':21.5,'text-anchor':'middle'},String(t));
    
    
  });
  yTicks.forEach(t=>{
    const tk=mk(g,'line',{x1:L,x2:L+4,y1:yS(t),y2:yS(t),stroke:'#000','stroke-width':1});
    
    
    const lb=mk(g,'text',{x:L-9,y:yS(t)+8.7,'font-size':21.5,'text-anchor':'end'},String(t));
    
    
  });
  thetaBins.forEach((th,j)=>{
    latBins.forEach((lat,i)=>{
      const v=p.data[j][i];
      if(v===null||v===undefined)return;
      const x0=xS(lat-2.5),x1=xS(lat+2.5),y0=yS(th+5),y1=yS(th-5);
      const cell=mk(g,'rect',{x:x0.toFixed(2),y:y0.toFixed(2),width:(x1-x0+0.3).toFixed(2),height:(y1-y0+0.3).toFixed(2),fill:p.kind==='v'?vmrColor(v):diffColor(v),'shape-rendering':'crispEdges'});
      
      
    });
  });
  const fr=mk(g,'rect',{x:L,y:T,width:PW,height:PH,fill:'none',stroke:'#000','stroke-width':1.3});
  
  
  const letter=mk(g,'text',{x:p.lx,y:T-15.8,'font-size':26},'('+p.id+')');
  
  
  const tt=mk(g,'text',{x:p.tx,y:T-15.8,'font-size':21.7},p.title);
  
  
  if(p.r===2){
    const xl=mk(g,'text',{x:L+PW/2-6,y:T+PH+54,'font-size':21.3,'text-anchor':'middle'},'Equivalent latitude [° N]');
    
    
  }
  if(p.c===0){
    const cy=T+PH/2+7;
    const yl=mk(g,'text',{x:0,y:0,'font-size':21.8,'text-anchor':'middle',transform:'translate(30,'+cy+') rotate(-90)'},'TP-relative theta [K]');
    
    
  }
});
/* colorbars */
const bars=document.getElementById('bars');
const BT=126,BB=739.5;
function drawBar(name,x,w,steps,colorOf,yOf,major,minor,labelFn,title,tx,tcy,lx){
  const g=mk(bars,'g',{});
  
  
  const sh=(BB-BT)/steps;
  for(let i=0;i<steps;i++){
    const r=mk(g,'rect',{x:x,y:(BT+i*sh).toFixed(2),width:w,height:(sh+0.4).toFixed(2),fill:colorOf(1-(i+0.5)/steps),'shape-rendering':'crispEdges'});
    
    
  }
  major.concat(minor).forEach(t=>{
    [[x,x+5],[x+w-5,x+w]].forEach(s=>{
      const tk=mk(g,'line',{x1:s[0],x2:s[1],y1:yOf(t),y2:yOf(t),stroke:'#000','stroke-width':1});
      
      
    });
  });
  major.forEach(t=>{
    const lb=mk(g,'text',{x:lx,y:yOf(t)+7.5,'font-size':21.5},labelFn(t));
    
    
  });
  const fr=mk(g,'rect',{x:x,y:BT,width:w,height:BB-BT,fill:'none',stroke:'#000','stroke-width':1.3});
  
  
  const tl=mk(g,'text',{x:0,y:0,'font-size':25.5,'text-anchor':'middle',transform:'translate('+tx+','+tcy+') rotate(-90)'},title);
  
  
}
drawBar('vmr-colorbar',755,22.5,100,t=>ramp(plasma,t),v=>BB-Math.log10(v)/Math.log10(VMR_MAX)*(BB-BT),vmrTicks,vmrMinorTicks,String,'VMR [ppmv]',740.5,425,785);
drawBar('difference-colorbar',1558.5,22.5,64,t=>ramp(rdbu,t),v=>BB-(v+DIFF_MAX)/(2*DIFF_MAX)*(BB-BT),diffTicks,[],String,'Relative difference [%]',1544,441,1590);
</script>
</body></html>
